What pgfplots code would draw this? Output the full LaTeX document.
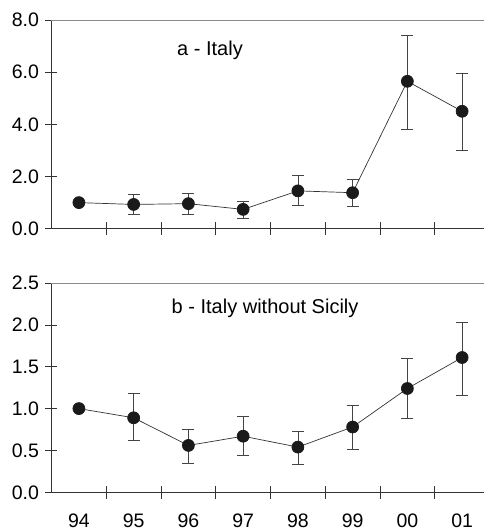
\documentclass[border=0pt]{standalone}
\usepackage{pgfplots}
\pgfplotsset{compat=1.18}
\usepackage{pgfplotstable}
\usepackage{fontspec}
\setmainfont{Liberation Sans}
\definecolor{axc}{HTML}{333333}
\definecolor{topc}{HTML}{8A8A8A}
\definecolor{linec}{HTML}{333333}
\definecolor{errc}{HTML}{444444}
\definecolor{dotc}{HTML}{1A1A1A}

\pgfplotstableread{
x y ep em
0 1.00 0.00 0.00
1 0.93 0.37 0.37
2 0.96 0.40 0.40
3 0.74 0.31 0.34
4 1.45 0.58 0.55
5 1.38 0.51 0.52
6 5.65 1.78 1.83
7 4.50 1.45 1.48
}\italy

\pgfplotstableread{
x y ep em
0 1.00 0.00 0.00
1 0.89 0.29 0.27
2 0.56 0.19 0.21
3 0.67 0.24 0.23
4 0.54 0.19 0.20
5 0.78 0.26 0.27
6 1.24 0.36 0.36
7 1.61 0.42 0.45
}\nosicily

\pgfplotsset{
  panel/.style={
    width=433pt, scale only axis,
    xmin=-0.51, xmax=7.40,
    axis x line*=bottom, axis y line*=left,
    axis line style={color=axc, line width=0.6pt},
    xtick={0,...,7},
    major x tick style={draw=none},
    minor xtick={0.5,1.5,...,6.5},
    minor x tick style={color=axc, line width=0.6pt},
    minor tick length=13pt,
    major tick length=11pt,
    tick align=center,
    ytick style={color=axc, line width=0.6pt},
    yticklabel style={font=\fontsize{19.5}{22}\selectfont, /pgf/number format/fixed, /pgf/number format/precision=1, /pgf/number format/fixed zerofill, xshift=-3pt},
    xticklabel style={font=\fontsize{19.5}{22}\selectfont, yshift=-13pt},
    /pgf/number format/assume math mode=true,
    clip=false,
  },
  dat/.style={
    color=linec, line width=0.7pt,
    mark=*, mark size=6pt, mark options={fill=dotc, draw=dotc},
    error bars/.cd, y dir=both, y explicit,
    error bar style={color=errc, line width=0.6pt},
    error mark options={color=errc, line width=0.6pt, mark size=6pt, rotate=90},
  },
}

\begin{document}
\begin{tikzpicture}
\useasboundingbox (0pt,0pt) rectangle (484pt,-532pt);
\begin{axis}[panel,
  at={(51pt,-228.7pt)}, anchor=south west,
  height=208.7pt,
  ymin=0, ymax=8, ytick={0,2,4,6,8},
  xticklabels={},
]
\addplot+[dat] table[x=x, y=y, y error plus=ep, y error minus=em] {\italy};
\draw[color=topc, line width=0.6pt] (rel axis cs:0,1) -- (rel axis cs:1,1);
\end{axis}
\begin{axis}[panel,
  at={(51pt,-492.3pt)}, anchor=south west,
  height=209.3pt,
  ymin=0, ymax=2.5, ytick={0,0.5,...,2.5},
  xticklabels={94,95,96,97,98,99,00,01},
]
\addplot+[dat] table[x=x, y=y, y error plus=ep, y error minus=em] {\nosicily};
\draw[color=topc, line width=0.6pt] (rel axis cs:0,1) -- (rel axis cs:1,1);
\end{axis}
\node[anchor=west, inner sep=0pt, font=\fontsize{20}{22}\selectfont] at (177pt,-50pt) {a - Italy};
\node[anchor=west, inner sep=0pt, font=\fontsize{20}{22}\selectfont] at (171.5pt,-308pt) {b - Italy without Sicily};
\end{tikzpicture}
\end{document}
